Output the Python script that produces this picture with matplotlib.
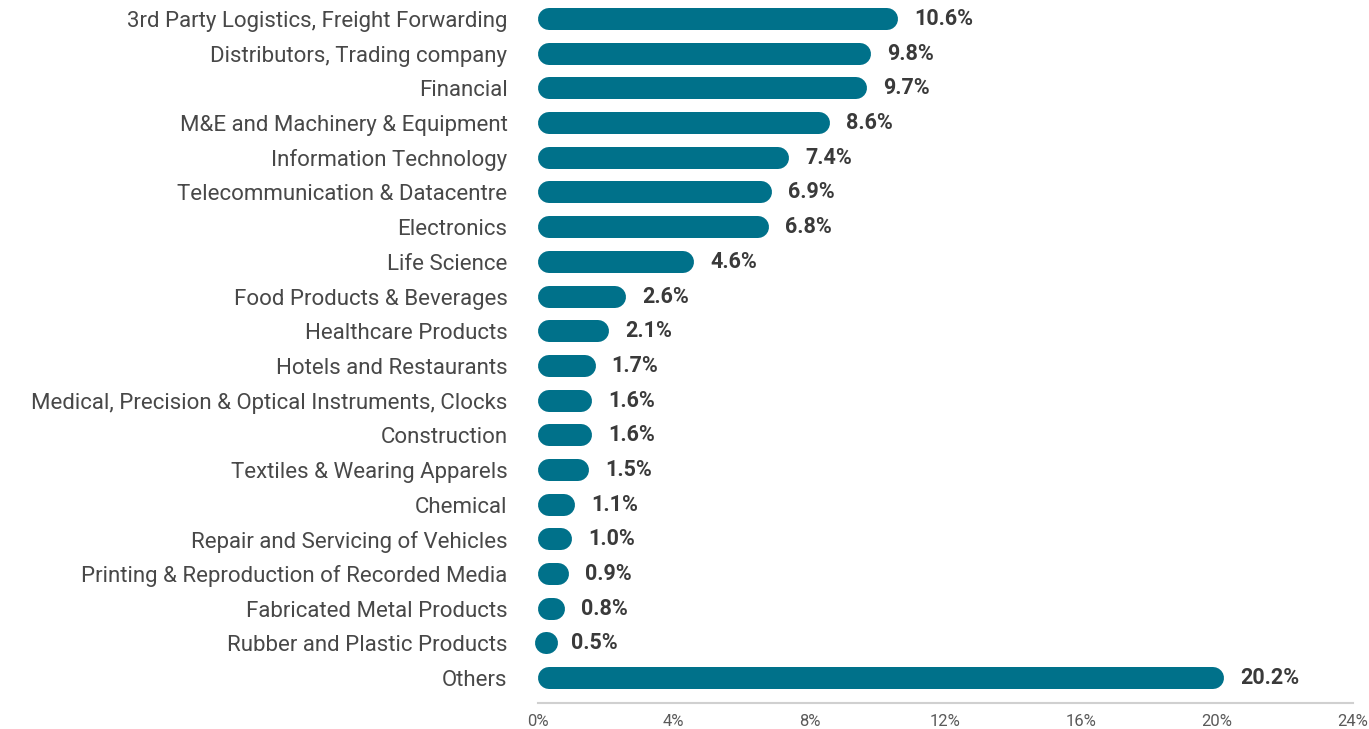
import matplotlib
matplotlib.use("Agg")
import matplotlib.pyplot as plt
from matplotlib import font_manager

categories = [
    "3rd Party Logistics, Freight Forwarding",
    "Distributors, Trading company",
    "Financial",
    "M&E and Machinery & Equipment",
    "Information Technology",
    "Telecommunication & Datacentre",
    "Electronics",
    "Life Science",
    "Food Products & Beverages",
    "Healthcare Products",
    "Hotels and Restaurants",
    "Medical, Precision & Optical Instruments, Clocks",
    "Construction",
    "Textiles & Wearing Apparels",
    "Chemical",
    "Repair and Servicing of Vehicles",
    "Printing & Reproduction of Recorded Media",
    "Fabricated Metal Products",
    "Rubber and Plastic Products",
    "Others",
]
shares = [10.6, 9.8, 9.7, 8.6, 7.4, 6.9, 6.8, 4.6, 2.6, 2.1,
          1.7, 1.6, 1.6, 1.5, 1.1, 1.0, 0.9, 0.8, 0.5, 20.2]
x_ticks = [0, 4, 8, 12, 16, 20, 24]

BAR = "#00718A"
TEXT = "#3a3a3a"

installed = {f.name for f in font_manager.fontManager.ttflist}
family = "Roboto" if "Roboto" in installed else "DejaVu Sans"

dpi = 100
fig = plt.figure(figsize=(13.69, 7.29), dpi=dpi)
ax = fig.add_axes([538 / 1369, 1 - 703 / 729, (1353 - 538) / 1369, 703 / 729])

ax.set_xlim(0, 24)
ax.set_ylim(19.72, -0.55)

# rounded bars: thick lines with round caps, trimmed so ends sit at the value
bar_px = 22
lw_pt = bar_px * 72 / dpi
px_per_unit = (1353 - 538) / 24
r = (bar_px / 2) / px_per_unit
for i, v in enumerate(shares):
    x0, x1 = r, v - r
    if x1 <= x0:
        # too short for two caps, just draw a dot
        x0, x1 = v / 2 - 0.005, v / 2 + 0.005
    ax.plot([x0, x1], [i, i], color=BAR, linewidth=lw_pt,
            solid_capstyle="round", zorder=3, clip_on=False)
    ax.text(v + 16 / px_per_unit, i, f"{v:.1f}%", va="center", ha="left",
            fontsize=15.5, fontweight="bold", color=TEXT, family=family)

ax.set_yticks(range(len(categories)))
ax.set_yticklabels(categories, fontsize=16, color="#484848", family=family,
                   fontweight="normal")
ax.tick_params(axis="y", length=0, pad=22)

ax.set_xticks(x_ticks)
ax.set_xticklabels([f"{t}%" for t in x_ticks], fontsize=12, color="#5a5a5a",
                   family=family)
ax.tick_params(axis="x", length=0, pad=8)

for side in ["top", "right", "left"]:
    ax.spines[side].set_visible(False)
ax.spines["bottom"].set_color("#d0d0d0")
ax.spines["bottom"].set_linewidth(1.5)

fig.savefig("out.png", dpi=dpi)
